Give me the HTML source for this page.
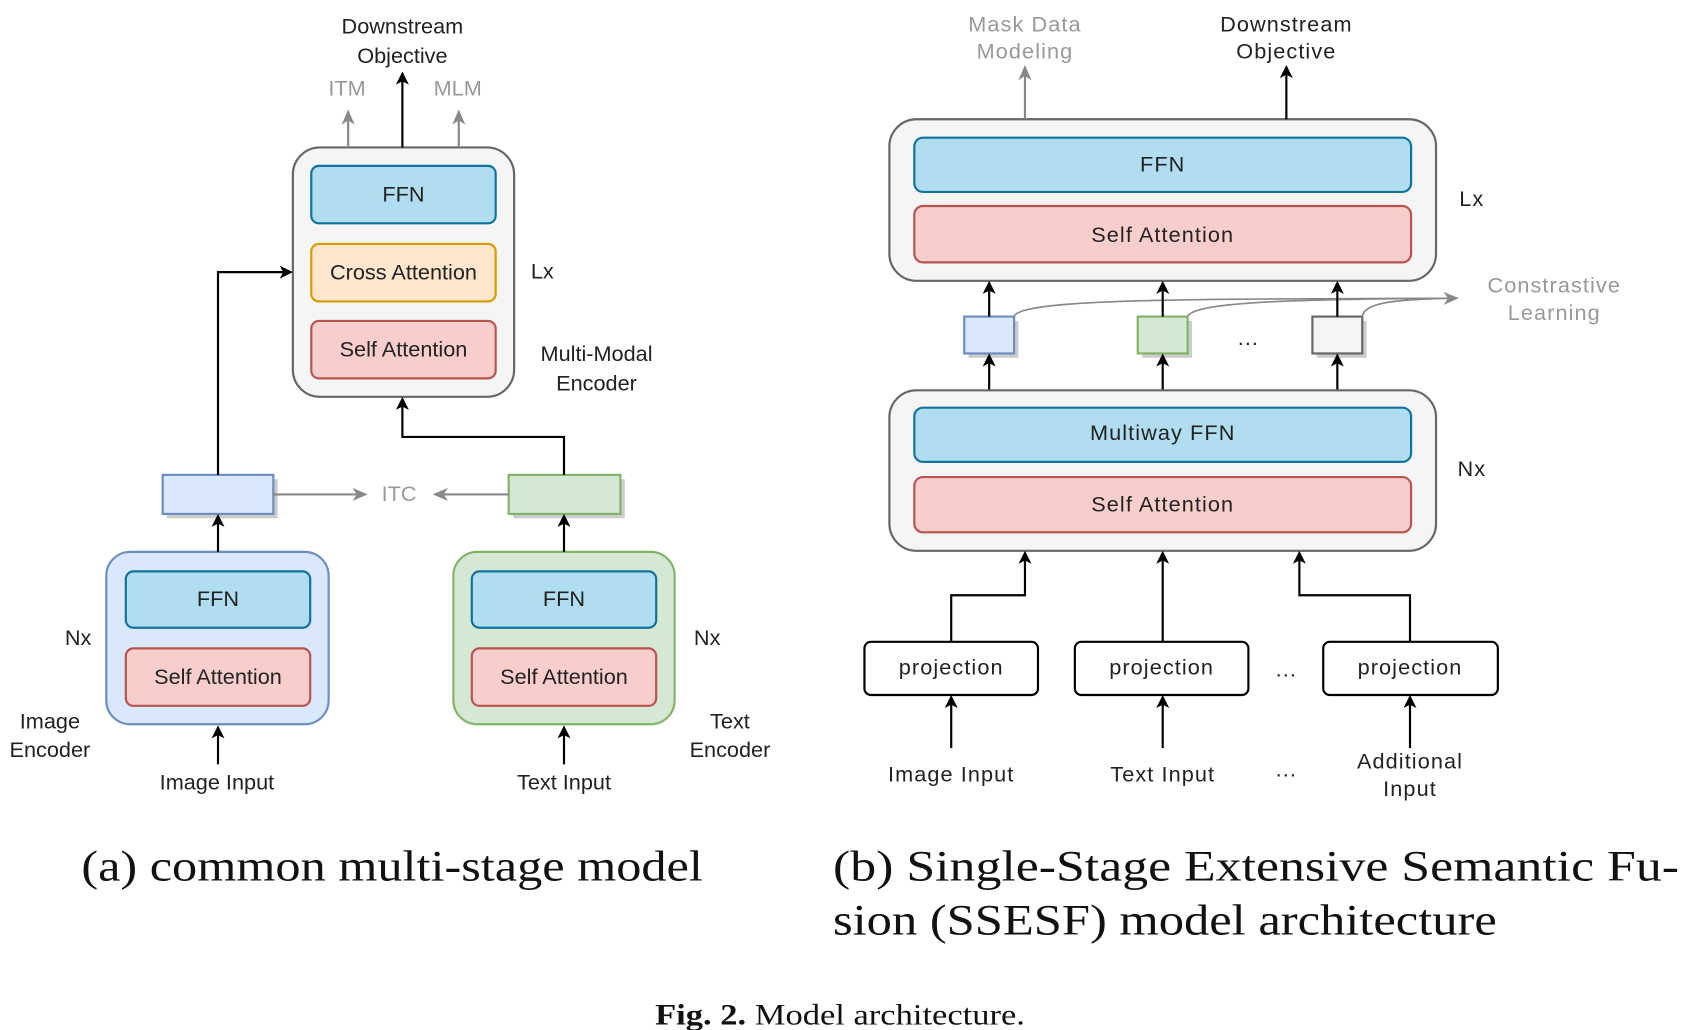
<!DOCTYPE html>
<html><head><meta charset="utf-8"><style>html,body{margin:0;padding:0;background:#fff}svg{display:block}</style></head><body>
<svg width="1692" height="1030" viewBox="0 0 1560 950" preserveAspectRatio="none" xmlns="http://www.w3.org/2000/svg" font-family="Liberation Sans, sans-serif">
<defs>
<marker id="ab" markerWidth="12" markerHeight="12" refX="10" refY="6" orient="auto" markerUnits="userSpaceOnUse"><path d="M0,0 L12,6 L0,12 L3,6 z" fill="#000"/></marker>
<marker id="ag" markerWidth="14" markerHeight="12" refX="12" refY="6" orient="auto" markerUnits="userSpaceOnUse"><path d="M0,0 L14,6 L0,12 L4,6 z" fill="#888"/></marker>
</defs>
<g font-size="20" text-anchor="middle" fill="#222">
<!-- (a) -->
<rect x="270" y="136" width="204" height="230" rx="25" fill="#f5f5f5" stroke="#666" stroke-width="2"/>
<rect x="287" y="153" width="170" height="53" rx="7" fill="#b1ddf0" stroke="#10739e" stroke-width="2"/>
<text x="372" y="186">FFN</text>
<rect x="287" y="225" width="170" height="53" rx="7" fill="#ffe6cc" stroke="#d79b00" stroke-width="2"/>
<text x="372" y="258">Cross Attention</text>
<rect x="287" y="296" width="170" height="53" rx="7" fill="#f8cecc" stroke="#b85450" stroke-width="2"/>
<text x="372" y="329">Self Attention</text>
<text x="500" y="257">Lx</text>
<text x="550" y="333">Multi-Modal</text><text x="550" y="360">Encoder</text>
<line x1="371" y1="136" x2="371" y2="68" stroke="#000" stroke-width="2" marker-end="url(#ab)"/>
<line x1="321" y1="136" x2="321" y2="103" stroke="#888" stroke-width="2" marker-end="url(#ag)"/>
<line x1="423" y1="136" x2="423" y2="103" stroke="#888" stroke-width="2" marker-end="url(#ag)"/>
<text x="320" y="88" fill="#999">ITM</text><text x="422" y="88" fill="#999">MLM</text>
<text x="371" y="31">Downstream</text><text x="371" y="58">Objective</text>

<rect x="98" y="509" width="205" height="159" rx="22" fill="#dae8fc" stroke="#6c8ebf" stroke-width="2"/>
<rect x="116" y="527" width="170" height="52" rx="7" fill="#b1ddf0" stroke="#10739e" stroke-width="2"/>
<text x="201" y="559">FFN</text>
<rect x="116" y="598" width="170" height="53" rx="7" fill="#f8cecc" stroke="#b85450" stroke-width="2"/>
<text x="201" y="631">Self Attention</text>
<rect x="418" y="509" width="204" height="159" rx="22" fill="#d5e8d4" stroke="#82b366" stroke-width="2"/>
<rect x="435" y="527" width="170" height="52" rx="7" fill="#b1ddf0" stroke="#10739e" stroke-width="2"/>
<text x="520" y="559">FFN</text>
<rect x="435" y="598" width="170" height="53" rx="7" fill="#f8cecc" stroke="#b85450" stroke-width="2"/>
<text x="520" y="631">Self Attention</text>

<rect x="154" y="442" width="102" height="36" fill="#ccc"/>
<rect x="150" y="438" width="102" height="36" fill="#dae8fc" stroke="#6c8ebf" stroke-width="2"/>
<rect x="473" y="442" width="103" height="36" fill="#ccc"/>
<rect x="469" y="438" width="103" height="36" fill="#d5e8d4" stroke="#82b366" stroke-width="2"/>
<line x1="201" y1="509" x2="201" y2="476" stroke="#000" stroke-width="2" marker-end="url(#ab)"/>
<line x1="520" y1="509" x2="520" y2="476" stroke="#000" stroke-width="2" marker-end="url(#ab)"/>
<polyline points="201,438 201,251 268,251" fill="none" stroke="#000" stroke-width="2" marker-end="url(#ab)"/>
<polyline points="520,438 520,403 371,403 371,368" fill="none" stroke="#000" stroke-width="2" marker-end="url(#ab)"/>
<line x1="252" y1="456" x2="337" y2="456" stroke="#888" stroke-width="2" marker-end="url(#ag)"/>
<line x1="469" y1="456" x2="401" y2="456" stroke="#888" stroke-width="2" marker-end="url(#ag)"/>
<text x="368" y="462" fill="#999">ITC</text>
<text x="72" y="595">Nx</text><text x="652" y="595">Nx</text>
<text x="46" y="672">Image</text><text x="46" y="698">Encoder</text>
<text x="673" y="672">Text</text><text x="673" y="698">Encoder</text>
<line x1="201" y1="705" x2="201" y2="671" stroke="#000" stroke-width="2" marker-end="url(#ab)"/>
<line x1="520" y1="705" x2="520" y2="671" stroke="#000" stroke-width="2" marker-end="url(#ab)"/>
<text x="200" y="728">Image Input</text><text x="520" y="728">Text Input</text>
</g>

<g font-size="20" text-anchor="middle" fill="#222" letter-spacing="1">
<!-- (b) -->
<rect x="820" y="110" width="504" height="149" rx="25" fill="#f5f5f5" stroke="#666" stroke-width="2"/>
<rect x="843" y="127" width="458" height="50" rx="8" fill="#b1ddf0" stroke="#10739e" stroke-width="2"/>
<text x="1072" y="158">FFN</text>
<rect x="843" y="190" width="458" height="52" rx="8" fill="#f8cecc" stroke="#b85450" stroke-width="2"/>
<text x="1072" y="223">Self Attention</text>
<text x="1357" y="190">Lx</text>
<line x1="945" y1="110" x2="945" y2="62" stroke="#888" stroke-width="2" marker-end="url(#ag)"/>
<line x1="1186" y1="110" x2="1186" y2="62" stroke="#000" stroke-width="2" marker-end="url(#ab)"/>
<text x="945" y="29" fill="#999">Mask Data</text><text x="945" y="54" fill="#999">Modeling</text>
<text x="1186" y="29">Downstream</text><text x="1186" y="54">Objective</text>

<rect x="893" y="296" width="46" height="34" fill="#ccc"/>
<rect x="889" y="292" width="46" height="34" fill="#dae8fc" stroke="#6c8ebf" stroke-width="2"/>
<rect x="1053" y="296" width="46" height="34" fill="#ccc"/>
<rect x="1049" y="292" width="46" height="34" fill="#d5e8d4" stroke="#82b366" stroke-width="2"/>
<rect x="1214" y="296" width="46" height="34" fill="#ccc"/>
<rect x="1210" y="292" width="46" height="34" fill="#f5f5f5" stroke="#666" stroke-width="2"/>
<text x="1151" y="318">...</text>
<path d="M935,292 C940,275 1100,276 1343,275" fill="none" stroke="#888" stroke-width="1.5"/>
<path d="M1095,292 C1100,278 1200,276 1343,275" fill="none" stroke="#888" stroke-width="1.5"/>
<path d="M1256,292 C1258,280 1280,276 1343,275" fill="none" stroke="#888" stroke-width="1.5" marker-end="url(#ag)"/>
<text x="1433" y="270" fill="#999">Constrastive</text><text x="1433" y="295" fill="#999">Learning</text>
<g stroke="#000" stroke-width="2">
<line x1="912" y1="292" x2="912" y2="261" marker-end="url(#ab)"/>
<line x1="1072" y1="292" x2="1072" y2="261" marker-end="url(#ab)"/>
<line x1="1233" y1="292" x2="1233" y2="261" marker-end="url(#ab)"/>
<line x1="912" y1="360" x2="912" y2="328" marker-end="url(#ab)"/>
<line x1="1072" y1="360" x2="1072" y2="328" marker-end="url(#ab)"/>
<line x1="1233" y1="360" x2="1233" y2="328" marker-end="url(#ab)"/>
</g>
<rect x="820" y="360" width="504" height="148" rx="25" fill="#f5f5f5" stroke="#666" stroke-width="2"/>
<rect x="843" y="376" width="458" height="50" rx="8" fill="#b1ddf0" stroke="#10739e" stroke-width="2"/>
<text x="1072" y="406">Multiway FFN</text>
<rect x="843" y="440" width="458" height="51" rx="8" fill="#f8cecc" stroke="#b85450" stroke-width="2"/>
<text x="1072" y="472">Self Attention</text>
<text x="1357" y="439">Nx</text>

<g fill="#fff" stroke="#000" stroke-width="2">
<rect x="797" y="592" width="160" height="49" rx="6"/>
<rect x="991" y="592" width="160" height="49" rx="6"/>
<rect x="1220" y="592" width="161" height="49" rx="6"/>
</g>
<text x="877" y="622">projection</text><text x="1071" y="622">projection</text><text x="1300" y="622">projection</text>
<text x="1186" y="624">...</text>
<g stroke="#000" stroke-width="2" fill="none">
<polyline points="877,592 877,549 945,549 945,510" marker-end="url(#ab)"/>
<line x1="1072" y1="592" x2="1072" y2="510" marker-end="url(#ab)"/>
<polyline points="1300,592 1300,549 1198,549 1198,510" marker-end="url(#ab)"/>
<line x1="877" y1="690" x2="877" y2="643" marker-end="url(#ab)"/>
<line x1="1072" y1="690" x2="1072" y2="643" marker-end="url(#ab)"/>
<line x1="1300" y1="690" x2="1300" y2="643" marker-end="url(#ab)"/>
</g>
<text x="877" y="721">Image Input</text><text x="1072" y="721">Text Input</text>
<text x="1186" y="716">...</text>
<text x="1300" y="709">Additional</text><text x="1300" y="734">Input</text>
</g>

<g font-family="Liberation Serif, serif" fill="#111">
<text x="75" y="812" font-size="40" textLength="573" lengthAdjust="spacingAndGlyphs">(a) common multi-stage model</text>
<text x="768" y="812" font-size="40" textLength="780" lengthAdjust="spacingAndGlyphs">(b) Single-Stage Extensive Semantic Fu-</text>
<text x="768" y="862" font-size="40" textLength="612" lengthAdjust="spacingAndGlyphs">sion (SSESF) model architecture</text>
<text x="604" y="945" font-size="27" textLength="341" lengthAdjust="spacingAndGlyphs"><tspan font-weight="bold">Fig. 2.</tspan> Model architecture.</text>
</g>
</svg>
</body></html>
